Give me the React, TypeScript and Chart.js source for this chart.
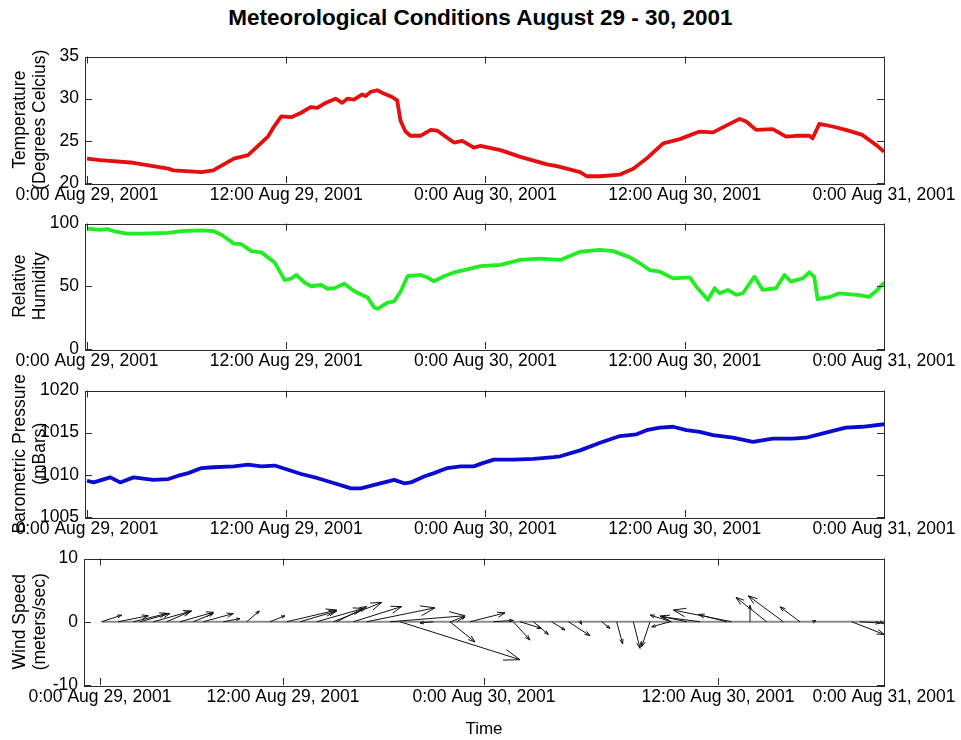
import React, { useEffect, useRef } from "react";
import { Chart, registerables } from "chart.js";

Chart.register(...registerables);

const FONT = "'Liberation Sans', Arial, Helvetica, sans-serif";

// ---- axis ticks ----
const TIME_TICKS = [0, 12, 24, 36, 48];
const TIME_LABELS = [
  "0:00 Aug 29, 2001",
  "12:00 Aug 29, 2001",
  "0:00 Aug 30, 2001",
  "12:00 Aug 30, 2001",
  "0:00 Aug 31, 2001",
];
const WIND_TICKS = [0.96, 11.94, 24.0, 38.04, 48];

// ---- temperature (hours since 0:00 Aug 29, deg C) ----
const tempHours = [0, 0.8, 2.8, 4.9, 5.2, 6.9, 7.6, 8.85, 9.7, 10.9, 11.2, 11.7, 12.3, 12.87, 13.47, 13.87, 14.37, 14.97, 15.37, 15.68, 16.07, 16.58, 16.78, 17.08, 17.48, 17.88, 18.38, 18.68, 18.88, 19.18, 19.48, 20.08, 20.7, 21.1, 22.1, 22.6, 23.3, 23.7, 24.9, 26.1, 27.7, 28.3, 29.7, 30.1, 30.9, 32.1, 32.9, 33.7, 34.7, 35.7, 36.9, 37.7, 38.5, 39.3, 39.7, 40.3, 41.3, 42.1, 42.7, 43.5, 43.7, 44.1, 44.9, 45.7, 46.7, 47.6, 48];
const tempValues = [22.9, 22.7, 22.4, 21.7, 21.5, 21.3, 21.5, 22.9, 23.3, 25.5, 26.5, 27.9, 27.8, 28.3, 29.0, 28.9, 29.5, 30.0, 29.5, 30.0, 29.9, 30.5, 30.3, 30.8, 31.0, 30.6, 30.2, 29.8, 27.4, 26.1, 25.6, 25.6, 26.3, 26.2, 24.8, 25.0, 24.2, 24.4, 23.9, 23.1, 22.2, 22.0, 21.3, 20.8, 20.8, 21.0, 21.7, 22.9, 24.7, 25.2, 26.1, 26.0, 26.8, 27.6, 27.3, 26.3, 26.4, 25.5, 25.6, 25.6, 25.3, 27.0, 26.7, 26.3, 25.7, 24.4, 23.7];

// ---- relative humidity ----
const humHours = [0, 0.8, 1.2, 1.6, 2.4, 3.2, 4.9, 5.7, 6.9, 7.6, 8.1, 8.85, 9.3, 9.9, 10.5, 11.3, 11.9, 12.3, 12.6, 13.1, 13.5, 14.1, 14.5, 14.9, 15.5, 16.1, 16.9, 17.3, 17.5, 18.1, 18.5, 18.9, 19.3, 20.1, 20.5, 20.9, 21.5, 22.1, 22.9, 23.7, 24.9, 26.1, 27.3, 28.5, 29.7, 30.9, 31.7, 32.7, 33.3, 33.9, 34.5, 35.3, 36.3, 36.7, 37.4, 37.8, 38.1, 38.6, 39.1, 39.5, 40.2, 40.7, 41.5, 42.0, 42.4, 43.1, 43.5, 43.8, 44.0, 44.7, 45.3, 46.5, 47.1, 47.6, 48];
const humValues = [96, 95, 95.5, 94, 92, 92, 92.5, 94, 94.5, 94, 91, 84, 83.5, 78, 77, 69, 55, 56, 59, 53, 50, 51, 48, 48.5, 52, 46, 41, 33, 32, 37, 38, 46, 58, 59, 57, 54, 58, 61, 63.5, 66, 67, 71, 72, 71, 77.5, 79, 78, 73, 68.3, 62.9, 61.6, 56.3, 57.1, 49.7, 39.1, 48.4, 44.4, 47.1, 43.1, 44.4, 57.6, 47.1, 48.4, 59.0, 53.7, 56.3, 61.1, 57.6, 39.7, 41.3, 44.4, 43, 41.5, 47, 53];

// ---- barometric pressure (mBars) ----
const presHours = [0, 0.4, 1.4, 2.0, 2.8, 4.0, 4.9, 5.5, 6.1, 6.9, 7.6, 8.85, 9.7, 10.5, 11.3, 12.1, 12.9, 13.9, 14.9, 15.9, 16.5, 17.3, 17.9, 18.5, 19.1, 19.5, 20.3, 20.9, 21.7, 22.5, 23.3, 23.7, 24.5, 25.7, 26.9, 28.1, 28.5, 29.7, 30.9, 32.1, 33.1, 33.7, 34.5, 35.3, 36.1, 36.9, 37.7, 38.9, 40.1, 41.3, 42.5, 43.3, 44.5, 45.7, 46.7, 48];
const presValues = [1009.3, 1009.1, 1009.7, 1009.1, 1009.7, 1009.4, 1009.5, 1009.9, 1010.2, 1010.8, 1010.9, 1011.0, 1011.2, 1011.0, 1011.1, 1010.6, 1010.1, 1009.6, 1009.0, 1008.4, 1008.4, 1008.8, 1009.1, 1009.4, 1009.0, 1009.1, 1009.8, 1010.2, 1010.8, 1011.0, 1011.0, 1011.3, 1011.8, 1011.8, 1011.9, 1012.1, 1012.2, 1012.9, 1013.8, 1014.6, 1014.8, 1015.3, 1015.6, 1015.7, 1015.3, 1015.1, 1014.7, 1014.4, 1013.9, 1014.3, 1014.3, 1014.4, 1015.0, 1015.6, 1015.7, 1016.0];

// ---- wind vectors (base position, x component, y component in m/s) ----
const windX = [1.06, 2.06, 2.96, 3.36, 4.16, 4.96, 5.76, 6.56, 7.16, 8.36, 9.76, 11.16, 12.16, 12.96, 13.96, 14.96, 15.16, 16.16, 16.96, 18.36, 18.96, 20.96, 21.96, 22.36, 23.16, 24.56, 25.76, 26.16, 26.96, 28.06, 29.06, 29.76, 31.06, 31.96, 32.96, 33.96, 35.16, 35.26, 36.16, 36.96, 38.86, 38.56, 39.96, 40.96, 41.96, 42.96, 43.76, 46.06, 46.56, 47.76];
const windU = [1.2, 1.8, 2.0, 1.8, 2.3, 1.4, 2.0, 1.2, 1.8, 1.0, 0.76, 0.9, 3.0, 2.2, 2.8, 2.9, 1.8, 2.9, 4.1, 4.5, 7.2, -0.8, 1.5, 0.5, 2.1, 1.2, 1.0, 1.3, 0.9, 0.8, 1.3, 0.1, 0.5, 0.36, 0.4, -0.5, -1.1, -1.3, -1.6, -2.3, -3.5, -1.7, 0, -1.84, -2.1, -1.2, 0.16, 1.94, 1.2, 0.2];
const windV = [1.05, 0.95, 1.3, 1.3, 1.7, 1.6, 1.5, 1.3, 1.3, 0.5, 1.7, 0.95, 1.85, 1.7, 2.1, 3.05, 2.4, 2.4, 2.2, 0.95, -6.0, -0.2, -3.2, 0.8, 1.4, 0.2, -2.9, -1.05, -2.0, -1.3, -2.2, -0.4, -1.05, -3.5, -4.2, -3.95, -0.8, 1.05, 0.9, 0.8, 1.85, 1.15, 2.6, 3.85, 4.1, 2.35, 0.2, -2.0, -0.2, -0.3];

const TICK_FONT = { family: FONT, size: 17.5, lineHeight: 1.2 };
const YTITLE_FONT = { family: FONT, size: 17.5, lineHeight: 1.15 };
const AXIS_COLOR = "#2a2a2a";

const boxPlugin = {
  id: "matlabBox",
  afterDraw(chart: any) {
    const { ctx, chartArea: a, scales } = chart;
    const L = 7;
    ctx.save();
    ctx.strokeStyle = AXIS_COLOR;
    ctx.lineWidth = 1;
    ctx.beginPath();
    for (const t of scales.x.ticks) {
      const px = Math.round(scales.x.getPixelForValue(t.value)) + 0.5;
      ctx.moveTo(px, a.bottom);
      ctx.lineTo(px, a.bottom - L);
      ctx.moveTo(px, a.top);
      ctx.lineTo(px, a.top + L);
    }
    for (const t of scales.y.ticks) {
      const py = Math.round(scales.y.getPixelForValue(t.value)) + 0.5;
      ctx.moveTo(a.left, py);
      ctx.lineTo(a.left + L, py);
      ctx.moveTo(a.right, py);
      ctx.lineTo(a.right - L, py);
    }
    ctx.stroke();
    ctx.strokeRect(
      Math.round(a.left) + 0.5,
      Math.round(a.top) + 0.5,
      Math.round(a.right - a.left),
      Math.round(a.bottom - a.top)
    );
    ctx.restore();
  },
};

const quiverPlugin = {
  id: "quiver",
  afterDatasetsDraw(chart: any) {
    const { ctx, chartArea: a, scales } = chart;
    const xs = scales.x;
    const ys = scales.y;
    ctx.save();
    ctx.beginPath();
    ctx.rect(a.left, a.top, a.right - a.left, a.bottom - a.top);
    ctx.clip();
    ctx.strokeStyle = "#111";
    ctx.lineWidth = 1;
    for (let i = 0; i < windX.length; i++) {
      const x0 = xs.getPixelForValue(windX[i]);
      const y0 = ys.getPixelForValue(0);
      const x1 = xs.getPixelForValue(windX[i] + windU[i]);
      const y1 = ys.getPixelForValue(windV[i]);
      const dx = x1 - x0;
      const dy = y1 - y0;
      const len = Math.hypot(dx, dy);
      if (len < 0.5) continue;
      const hl = Math.min(Math.max(len * 0.22, 4), 17);
      const ang = Math.atan2(dy, dx);
      const spread = 0.33;
      ctx.beginPath();
      ctx.moveTo(x0, y0);
      ctx.lineTo(x1, y1);
      ctx.moveTo(x1 - hl * Math.cos(ang - spread), y1 - hl * Math.sin(ang - spread));
      ctx.lineTo(x1, y1);
      ctx.lineTo(x1 - hl * Math.cos(ang + spread), y1 - hl * Math.sin(ang + spread));
      ctx.stroke();
    }
    ctx.restore();
  },
};

function timeAxis(ticks: number[], min: number, height: number, title?: string) {
  return {
    type: "linear",
    min,
    max: 48,
    grid: { display: false, drawTicks: false },
    border: { display: false },
    afterBuildTicks: (s: any) => {
      s.ticks = ticks.map((v) => ({ value: v }));
    },
    afterFit: (s: any) => {
      s.height = height;
    },
    ticks: {
      autoSkip: false,
      maxRotation: 0,
      minRotation: 0,
      padding: 2,
      color: "#000",
      font: TICK_FONT,
      callback: (_v: any, i: number) => TIME_LABELS[i],
    },
    title: title
      ? { display: true, text: title, color: "#000", font: { family: FONT, size: 17, lineHeight: 1.2 }, padding: 0 }
      : { display: false },
  };
}

function valueAxis(min: number, max: number, step: number, title: string[], width: number) {
  return {
    type: "linear",
    min,
    max,
    grid: { display: false, drawTicks: false },
    border: { display: false },
    afterFit: (s: any) => {
      s.width = width;
    },
    ticks: {
      stepSize: step,
      padding: 6,
      color: "#000",
      font: TICK_FONT,
      callback: (v: any) => String(v),
    },
    title: {
      display: true,
      text: title,
      color: "#000",
      font: YTITLE_FONT,
      padding: { top: 10, bottom: 0 },
    },
  };
}

function lineConfig(hours: number[], values: number[], color: string, min: number, max: number, step: number, title: string[]) {
  return {
    type: "line",
    data: {
      datasets: [
        {
          data: hours.map((h, i) => ({ x: h, y: values[i] })),
          borderColor: color,
          borderWidth: 3.8,
          borderJoinStyle: "round",
          pointRadius: 0,
          tension: 0,
          fill: false,
        },
      ],
    },
    options: {
      responsive: false,
      animation: false,
      devicePixelRatio: 1,
      layout: { padding: { top: 16, right: 77, left: 0, bottom: 0 } },
      plugins: { legend: { display: false }, tooltip: { enabled: false }, title: { display: false } },
      scales: {
        x: timeAxis(TIME_TICKS, -0.12, 30),
        y: valueAxis(min, max, step, title, 85),
      },
    },
    plugins: [boxPlugin],
  };
}

function windConfig() {
  return {
    type: "line",
    data: {
      datasets: [
        {
          data: [
            { x: windX[0], y: 0 },
            { x: 48, y: 0 },
          ],
          borderColor: "#8c8c8c",
          borderWidth: 2,
          pointRadius: 0,
          fill: false,
        },
      ],
    },
    options: {
      responsive: false,
      animation: false,
      devicePixelRatio: 1,
      layout: { padding: { top: 16, right: 77, left: 0, bottom: 0 } },
      plugins: { legend: { display: false }, tooltip: { enabled: false }, title: { display: false } },
      scales: {
        x: timeAxis(WIND_TICKS, 0, 55, "Time"),
        y: valueAxis(-10, 10, 10, ["Wind Speed", "(meters/sec)"], 84),
      },
    },
    plugins: [boxPlugin, quiverPlugin],
  };
}

function Panel({ top, height, make }: { top: number; height: number; make: () => any }) {
  const ref = useRef<HTMLCanvasElement | null>(null);
  useEffect(() => {
    if (!ref.current) return;
    const chart = new Chart(ref.current, make());
    return () => chart.destroy();
  }, []);
  return (
    <canvas
      ref={ref}
      width={961}
      height={height}
      style={{ position: "absolute", left: 0, top, width: 961, height, display: "block" }}
    />
  );
}

export default function App() {
  return (
    <div
      style={{
        position: "fixed",
        left: 0,
        top: 0,
        width: 961,
        height: 740,
        background: "#fff",
        overflow: "hidden",
      }}
    >
      <div
        style={{
          position: "absolute",
          top: 4,
          left: 0,
          width: 961,
          textAlign: "center",
          fontFamily: FONT,
          fontWeight: "bold",
          fontSize: 22.5,
          lineHeight: "28px",
          color: "#000",
        }}
      >
        Meteorological Conditions August 29 - 30, 2001
      </div>
      <Panel
        top={40}
        height={16 + 127 + 30}
        make={() => lineConfig(tempHours, tempValues, "#e60f0f", 20, 35, 5, ["Temperature", "(Degrees Celcius)"])}
      />
      <Panel
        top={207}
        height={16 + 126 + 30}
        make={() => lineConfig(humHours, humValues, "#22ec22", 0, 100, 50, ["Relative", "Humidity"])}
      />
      <Panel
        top={374}
        height={16 + 127 + 30}
        make={() => lineConfig(presHours, presValues, "#0a0ad0", 1005, 1020, 5, ["Barometric Pressure", "(mBars)"])}
      />
      <Panel top={542} height={16 + 127 + 55} make={windConfig} />
    </div>
  );
}
